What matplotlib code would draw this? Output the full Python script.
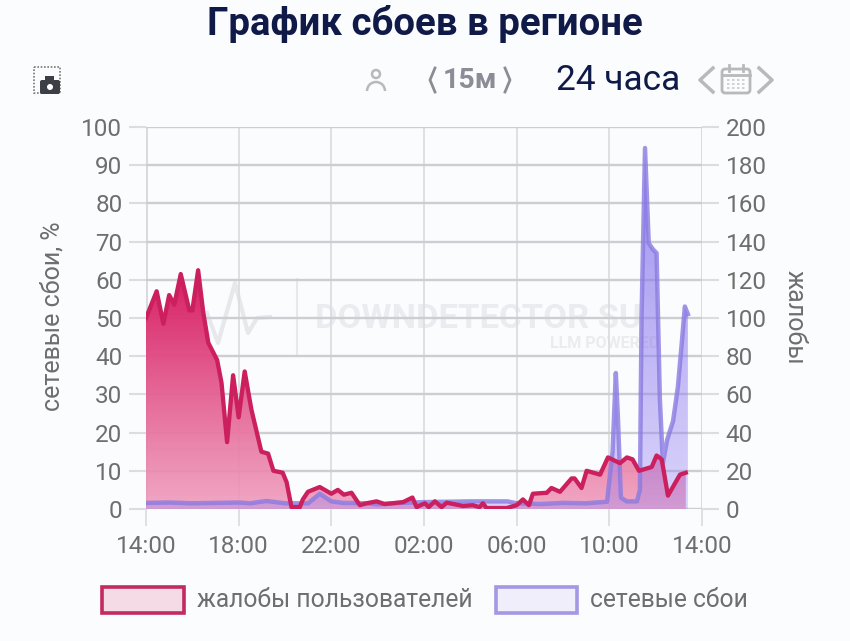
import matplotlib
matplotlib.use('Agg')
import matplotlib.pyplot as plt
import numpy as np
from matplotlib.patches import Rectangle, Circle, Arc, FancyBboxPatch

plt.rcParams['font.family'] = ['Roboto', 'DejaVu Sans']

# hours since 14:00
complaints_t = [0, .46, .75, 1.0, 1.22, 1.5, 1.87, 2.0, 2.25, 2.47, 2.69, 3.07, 3.26, 3.5, 3.76, 4.0,
                4.26, 4.55, 4.98, 5.27, 5.5, 5.9, 6.07, 6.28, 6.64, 6.77, 6.99, 7.5, 8.0, 8.28, 8.54,
                8.87, 9.23, 9.52, 9.95, 10.3, 11.1, 11.5, 11.68, 12.04, 12.2, 12.47, 12.76, 12.98,
                13.68, 14.1, 14.4, 14.54, 14.7, 15.57, 16.0, 16.27, 16.53, 16.7, 17.3, 17.5, 17.87,
                18.37, 18.5, 18.8, 19.02, 19.6, 19.94, 20.46, 20.76, 21.0, 21.28, 21.83, 22.04,
                22.26, 22.53, 23.05, 23.3]
complaints = [100, 114, 97, 112, 107, 123, 104, 104, 125, 103, 87, 78, 66, 35, 70, 48,
              72, 52, 30, 29, 20, 19, 14, 1, 1, 5, 9, 11.5, 8, 10, 7.5,
              8.5, 2, 3, 4, 2.6, 3.6, 6, 1, 3, 1, 4, 1, 3.3,
              1.6, 2, 1, 3, .5, .5, 2, 5, 2, 8, 8.5, 11, 9,
              16, 16, 11, 20, 18, 27, 24, 27, 26, 20, 22, 28,
              26, 7, 18, 19]

outages_t = [0, 1, 2, 3, 4, 4.5, 5.2, 6, 7, 7.5, 8, 8.5, 9.5, 10, 11, 12, 14, 15, 15.6, 16, 17, 18, 19,
             19.9, 20.14, 20.28, 20.37, 20.5, 20.75, 21.19, 21.32, 21.39, 21.54, 21.7, 21.88, 22.04,
             22.18, 22.31, 22.49, 22.75, 22.96, 23.12, 23.26, 23.39]
outages = [1.6, 1.7, 1.5, 1.6, 1.7, 1.5, 2.1, 1.5, 1.5, 4, 2, 1.6, 1.5, 1.2, 1.6, 1.8, 2, 2, 2, 1.5, 1.3, 1.6, 1.5,
           1.9, 15, 35.6, 24, 3, 2, 2, 5, 50, 94.5, 69.6, 68, 67,
           29, 12, 18, 23, 32, 43, 53, 51]

x_ticks = [0, 4, 8, 12, 16, 20, 24]
x_labels = ['14:00', '18:00', '22:00', '02:00', '06:00', '10:00', '14:00']

W, H = 850, 641
BG = '#fbfcfe'
GREY = '#6e6e6e'
RED = '#cb1f5e'
BLUE = '#8a7ae2'
NAVY = '#101a48'

fig = plt.figure(figsize=(W / 100, H / 100), dpi=100, facecolor=BG)

# overlay in pixel coords, for the page furniture
bg = fig.add_axes([0, 0, 1, 1], zorder=0)
bg.set_xlim(0, W)
bg.set_ylim(H, 0)
bg.axis('off')

ax = fig.add_axes([146 / W, 1 - 509 / H, 556 / W, 382 / H], zorder=1)
ax.patch.set_alpha(0)
ax2 = ax.twinx()
ax2.set_zorder(0)
ax.set_zorder(2)
ax2.patch.set_alpha(0)


def gradient_fill(t, v, top, bottom, ymax, transform, z):
    # vertical colour gradient clipped to the area under the curve
    poly = ax.fill_between(t, v, 0, facecolor='none', edgecolor='none', transform=transform, zorder=z)
    c = np.linspace(0, 1, 256)[:, None, None]
    img = np.array(top)[None, None, :] * (1 - c) + np.array(bottom)[None, None, :] * c
    im = ax.imshow(img, extent=[0, 24, 0, ymax], aspect='auto', origin='upper', zorder=z, interpolation='bilinear')
    im.set_clip_path(poly.get_paths()[0], transform=transform)


ax.set_xlim(0, 24)
ax.set_ylim(0, 100)
ax2.set_ylim(0, 200)

gradient_fill(complaints_t, complaints, (.85, .13, .40, 1), (.94, .62, .74, .9), 60, ax2.transData, 1)
gradient_fill(outages_t, outages, (.50, .43, .92, .8), (.60, .52, .95, .35), 100, ax.transData, 2)
ax.plot(outages_t, outages, color=BLUE, lw=3.2, alpha=.8, zorder=3, solid_joinstyle='round')
ax.plot(complaints_t, complaints, color=RED, lw=3.1, zorder=4, solid_joinstyle='round', transform=ax2.transData)

ax.set_xlim(0, 24)
ax.set_ylim(0, 100)

ax.set_yticks(range(0, 101, 10))
ax2.set_yticks(range(0, 201, 20))
ax.set_xticks(x_ticks)
ax.set_xticklabels(x_labels)
ax.set_axisbelow(True)
ax.grid(axis='y', color='#cdced2', lw=1.7)
ax.grid(axis='x', color='#dcdde0', lw=1.3)

for a in (ax, ax2):
    a.tick_params(colors=GREY, labelsize=17.5, length=12, width=1.5, color='#dcdde0', pad=5)
    for s in a.spines.values():
        s.set_visible(False)
ax.tick_params(axis='x', pad=7, width=1.3)
ax.axvline(0, color='#cfd0d3', lw=1.8, zorder=0.5)
ax.axvline(24, color='#c9cacd', lw=2, zorder=0.5)
ax.axhline(0, color='#cfd0d3', lw=1.8, zorder=0.5)

# titles and axis names
bg.text(425, 24, 'График сбоев в регионе', ha='center', va='center', fontsize=27.6, fontweight='bold', color=NAVY)
bg.text(53, 316, 'сетевые сбои, %', rotation=90, ha='center', va='center', fontsize=18, color=GREY)
bg.text(795, 317, 'жалобы', rotation=270, ha='center', va='center', fontsize=18, color=GREY)

# watermark
bg.text(478, 319, 'DOWNDETECTOR SU', ha='center', va='center', fontsize=24.8, fontweight='bold', color='#eaecf0')
bg.text(605, 344, 'LLM POWERED', ha='center', va='center', fontsize=11.5, fontweight='bold', color='#eaecf0')
bg.plot([207, 218, 235, 248, 257, 270], [313, 343, 283, 333, 318, 317], color='#e6e8ec', lw=3)
bg.plot([297, 297], [279, 355], color='#e6e8ec', lw=1.5)

# toolbar
bg.add_patch(Rectangle((34, 67), 26, 26, fill=False, ec='#777', lw=1.2, ls=(0, (1, 1))))
bg.add_patch(FancyBboxPatch((40, 80), 20, 14, boxstyle='round,pad=0,rounding_size=2', fc='#3c3f46', ec='none'))
bg.add_patch(Rectangle((45, 76), 9, 5, fc='#3c3f46', ec='none'))
bg.add_patch(Circle((50, 87), 3, fc='white', ec='none'))

bg.add_patch(Circle((376, 74), 4, fill=False, ec='#b9b9bb', lw=1.8))
bg.add_patch(Arc((376, 91), 18, 18, theta1=180, theta2=360, ec='#b9b9bb', lw=1.8))

bg.text(470, 80, '15м', ha='center', va='center', fontsize=20.5, fontweight='bold', color='#8a8d96')
bg.plot([435, 430, 435], [68, 80, 92], color='#8a8d96', lw=2)
bg.plot([505, 510, 505], [68, 80, 92], color='#8a8d96', lw=2)
bg.text(618, 80, '24 часа', ha='center', va='center', fontsize=25.4, color=NAVY)
bg.plot([713, 700, 713], [68, 80, 92], color='#b9b9bb', lw=2.5)
bg.plot([759, 772, 759], [68, 80, 92], color='#b9b9bb', lw=2.5)
bg.add_patch(FancyBboxPatch((722, 69), 28, 24, boxstyle='round,pad=0,rounding_size=3', fill=False, ec='#b9b9bb', lw=2))
bg.plot([722, 750], [75, 75], color='#b9b9bb', lw=2)
bg.plot([729, 729], [65, 71], color='#b9b9bb', lw=2)
bg.plot([743, 743], [65, 71], color='#b9b9bb', lw=2)
for y in (80, 84, 88):
    bg.plot([727, 745], [y, y], color='#c9c9cb', lw=1.2, ls=(0, (1.5, 1.5)))

# legend
bg.add_patch(Rectangle((102, 587), 82, 26, fc='#f5dbe5', ec='#c22a62', lw=2.6))
bg.text(197, 600, 'жалобы пользователей', ha='left', va='center', fontsize=17.7, color=GREY)
bg.add_patch(Rectangle((496, 587), 81, 26, fc='#f1eefb', ec='#a497e3', lw=2.6))
bg.text(590, 600, 'сетевые сбои', ha='left', va='center', fontsize=17.7, color=GREY)

fig.savefig('out.png', dpi=100, facecolor=BG)
